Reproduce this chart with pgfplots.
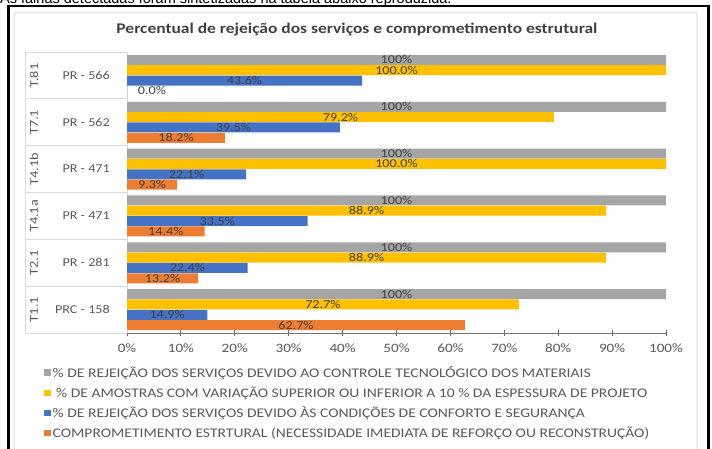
\documentclass[border=0pt]{standalone}
\usepackage{fontspec}
\setmainfont{Carlito}[FakeStretch=1.18]
\newfontfamily\arialfont{Liberation Sans}
\usepackage{pgfplots}
\usepackage{pgfplotstable}
\pgfplotsset{compat=1.18}
\definecolor{cgray}{HTML}{A5A5A5}
\definecolor{cyel}{HTML}{FFC000}
\definecolor{cblue}{HTML}{4472C4}
\definecolor{corange}{HTML}{ED7D31}
\definecolor{txt}{HTML}{595959}
\definecolor{lbl}{HTML}{404040}
\definecolor{gridc}{HTML}{D9D9D9}

\pgfplotstableread{
y gray yellow blue orange
5 100 100 43.6 0
4 100 79.2 39.5 18.2
3 100 100 22.1 9.3
2 100 88.9 33.5 14.4
1 100 88.9 22.4 13.2
0 100 72.7 14.9 62.7
}\data

\begin{document}
\begin{tikzpicture}[x=1pt,y=1pt]
\path[use as bounding box] (0,0) rectangle (712,448);
\node[anchor=base west, inner sep=0pt, font=\arialfont\fontsize{14.5}{16}\selectfont] at (0,444) {As falhas detectadas foram sintetizadas na tabela abaixo reproduzida.};
\draw[line width=2.5pt] (8.5,-10) -- (8.5,442) -- (708.5,442) -- (708.5,-10);
\draw[gridc, line width=1pt, rounded corners=2pt] (14,-10) -- (14,435) -- (697,435) -- (697,-10);
\node[font=\bfseries\fontsize{14.8}{18}\selectfont, text=lbl] at (357,418.5) {Percentual de rejeição dos serviços e comprometimento estrutural};

\begin{axis}[
 at={(127pt,115pt)}, anchor=south west,
 width=539pt, height=281pt, scale only axis,
 xbar, bar width=10pt, clip=false,
 xmin=0, xmax=100, ymin=-0.5, ymax=5.5,
 axis x line*=bottom, axis y line*=left,
 x axis line style={black!55, line width=0.9pt},
 y axis line style={gridc, line width=0.8pt},
 xtick={0,10,...,100},
 xtick style={black!60, line width=0.9pt},
 tick align=center, major tick length=6pt,
 /pgf/number format/assume math mode=true,
 xticklabel={\pgfmathprintnumber{\tick}\%},
 xticklabel style={font=\fontsize{12.8}{14}\selectfont, text=txt, yshift=-4.5pt},
 ytick={0,...,5},
 yticklabels={PRC - 158, PR - 281, PR - 471, PR - 471, PR - 562, PR - 566},
 ytick style={draw=none},
 yticklabel style={font=\fontsize{12}{14}\selectfont, text=txt, anchor=east, inner sep=0pt, xshift=-14pt},
 extra y ticks={0,...,5},
 extra y tick labels={T1.1, T2.1, T4.1a, T4.1b, T7.1, T.81},
 extra y tick style={yticklabel style={xshift=-76pt, rotate=90, anchor=center}},
 point meta=x,
 visualization depends on={rawx \as \rawx},
 every node near coord/.append style={font=\fontsize{12}{14}\selectfont, text=lbl, anchor=center, inner sep=0.5pt,
   xshift={(\rawx==0 ? 25 : -2.695*\rawx)*1pt}},
 legend style={at={(axis description cs:-0.154,-0.112)}, anchor=north west, draw=none, fill=none,
   font=\fontsize{13.2}{15}\selectfont, text=txt, row sep=3.8pt, inner sep=0pt},
 legend cell align=left,
 legend image code/.code={\fill[#1] (0pt,-3pt) rectangle (6.5pt,3.5pt);},
]
\addplot[fill=cgray, draw=none, bar shift=15.5pt,
  nodes near coords={\pgfmathprintnumber[fixed,precision=0]{\pgfplotspointmeta}\%}]
  table[x=gray,y=y]{\data};
\addlegendentry{\% DE REJEIÇÃO DOS SERVIÇOS DEVIDO AO CONTROLE TECNOLÓGICO DOS MATERIAIS}
\addplot[fill=cyel, draw=none, bar shift=5.2pt,
  nodes near coords={\pgfmathprintnumber[fixed,fixed zerofill,precision=1]{\pgfplotspointmeta}\%}]
  table[x=yellow,y=y]{\data};
\addlegendentry{\ \% DE AMOSTRAS COM VARIAÇÃO SUPERIOR OU INFERIOR A 10 \% DA ESPESSURA DE PROJETO}
\addplot[fill=cblue, draw=none, bar shift=-5.2pt,
  nodes near coords={\pgfmathprintnumber[fixed,fixed zerofill,precision=1]{\pgfplotspointmeta}\%}]
  table[x=blue,y=y]{\data};
\addlegendentry{\% DE REJEIÇÃO DOS SERVIÇOS DEVIDO ÀS CONDIÇÕES DE CONFORTO E SEGURANÇA}
\addplot[fill=corange, draw=none, bar shift=-15.5pt,
  nodes near coords={\pgfmathprintnumber[fixed,fixed zerofill,precision=1]{\pgfplotspointmeta}\%}]
  table[x=orange,y=y]{\data};
\addlegendentry{COMPROMETIMENTO ESTRTURAL (NECESSIDADE IMEDIATA DE REFORÇO OU RECONSTRUÇÃO)}
\end{axis}
\foreach \i in {0,...,6} \draw[gridc, line width=0.8pt] (25,115+\i*46.833) -- (127,115+\i*46.833);
\draw[gridc, line width=0.8pt] (25,115) -- (25,396);
\end{tikzpicture}
\end{document}
